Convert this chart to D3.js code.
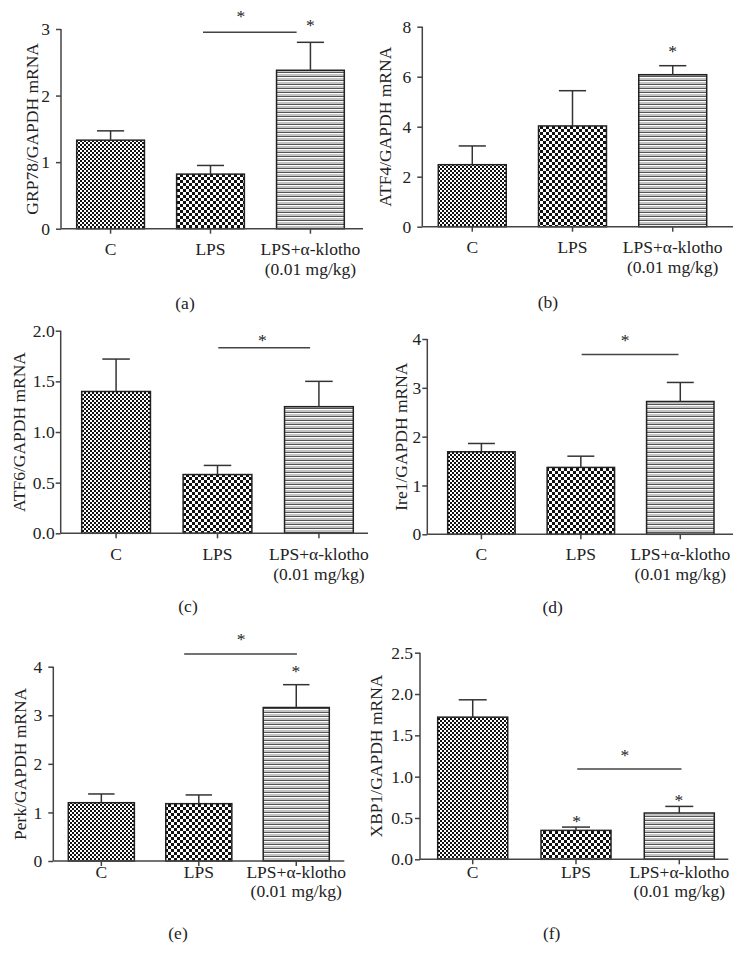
<!DOCTYPE html>
<html>
<head>
<meta charset="utf-8">
<script src="https://cdn.jsdelivr.net/npm/d3@7/dist/d3.min.js"></script>
<style>
  html, body { margin: 0; padding: 0; background: #fff; }
  svg { display: block; }
  text { font-family: "Liberation Serif", "DejaVu Serif", serif; fill: #222; }
</style>
</head>
<body>
<svg id="chart" width="740" height="964"></svg>
<script>
// ---------------- DATA ----------------
const categories = ["C", "LPS", "LPS+\u03b1-klotho"];
const categorySubLabels = ["", "", "(0.01 mg/kg)"];

const grp78Values = [1.33, 0.82, 2.38];
const grp78Errors = [0.14, 0.13, 0.42];
const grp78Ticks = [0, 1, 2, 3];

const atf4Values = [2.48, 4.03, 6.08];
const atf4Errors = [0.75, 1.41, 0.36];
const atf4Ticks = [0, 2, 4, 6, 8];

const atf6Values = [1.40, 0.58, 1.25];
const atf6Errors = [0.32, 0.09, 0.25];
const atf6Ticks = [0.0, 0.5, 1.0, 1.5, 2.0];

const ire1Values = [1.69, 1.37, 2.72];
const ire1Errors = [0.17, 0.23, 0.39];
const ire1Ticks = [0, 1, 2, 3, 4];

const perkValues = [1.20, 1.18, 3.16];
const perkErrors = [0.18, 0.18, 0.47];
const perkTicks = [0, 1, 2, 3, 4];

const xbp1Values = [1.72, 0.35, 0.56];
const xbp1Errors = [0.21, 0.04, 0.08];
const xbp1Ticks = [0.0, 0.5, 1.0, 1.5, 2.0, 2.5];

// significance bars: [from position, to position, value]; positions in category units
// stars: [position, value]
const panels = [
  { id: "a", title: "GRP78/GAPDH mRNA", values: grp78Values, errors: grp78Errors, ticks: grp78Ticks, fmt: "d",
    sig: [[0.925, 1.862, 2.95]], stars: [[1.305, 3.24], [2.0, 3.10]] },
  { id: "b", title: "ATF4/GAPDH mRNA", values: atf4Values, errors: atf4Errors, ticks: atf4Ticks, fmt: "d",
    sig: [], stars: [[2.0, 7.14]] },
  { id: "c", title: "ATF6/GAPDH mRNA", values: atf6Values, errors: atf6Errors, ticks: atf6Ticks, fmt: ".1f",
    sig: [[1.008, 1.913, 1.832]], stars: [[1.442, 1.941]] },
  { id: "d", title: "Ire1/GAPDH mRNA", values: ire1Values, errors: ire1Errors, ticks: ire1Ticks, fmt: "d",
    sig: [[1.008, 1.982, 3.68]], stars: [[1.445, 4.05]] },
  { id: "e", title: "Perk/GAPDH mRNA", values: perkValues, errors: perkErrors, ticks: perkTicks, fmt: "d",
    sig: [[0.850, 2.007, 4.26]], stars: [[1.434, 4.63], [1.996, 3.97]] },
  { id: "f", title: "XBP1/GAPDH mRNA", values: xbp1Values, errors: xbp1Errors, ticks: xbp1Ticks, fmt: ".1f",
    sig: [[1.012, 2.021, 1.092]], stars: [[1.473, 1.301], [1.006, 0.503], [1.995, 0.757]] }
];

// ---------------- LAYOUT ----------------
const FS = 17.5;
const LINE_GAP = 19.6;
const layouts = {
  a: { axisX: 61,    y0: 228.7, yTop: 29,    xEnd: 363,   barL: 76.7,  barR: 344.3, labelX: 32,  pad: 6, catDy: 20.5, letter: [185, 303] },
  b: { axisX: 422.3, y0: 226.7, yTop: 26.7,  xEnd: 733,   barL: 438.3, barR: 706.7, labelX: 385, pad: 6, catDy: 20.5, letter: [548, 301.7] },
  c: { axisX: 60.7,  y0: 533.3, yTop: 330.7, xEnd: 368,   barL: 81.7,  barR: 353.3, labelX: 19,  pad: 1, catDy: 21,   letter: [188, 606] },
  d: { axisX: 427.3, y0: 534.3, yTop: 339,   xEnd: 733,   barL: 447.7, barR: 714,   labelX: 401, pad: 1, catDy: 20,   letter: [552.7, 606.7] },
  e: { axisX: 53.3,  y0: 861,   yTop: 666.7, xEnd: 344.3, barL: 68.3,  barR: 329.3, labelX: 20,  pad: 6, catDy: 10.7, letter: [178, 933] },
  f: { axisX: 420,   y0: 859.3, yTop: 652.7, xEnd: 728.3, barL: 437.7, barR: 714.3, labelX: 376, pad: 2, catDy: 12.3, letter: [551.7, 933] }
};
const barWidthFrac = 0.678;

const svg = d3.select("#chart");
const defs = svg.append("defs");

// Patterns
const p1 = defs.append("pattern").attr("id", "checkFine").attr("patternUnits", "userSpaceOnUse")
  .attr("width", 4).attr("height", 4);
p1.append("rect").attr("width", 4).attr("height", 4).attr("fill", "#fff");
p1.append("rect").attr("x", 0).attr("y", 0).attr("width", 2).attr("height", 2).attr("fill", "#111");
p1.append("rect").attr("x", 2).attr("y", 2).attr("width", 2).attr("height", 2).attr("fill", "#111");

const p2 = defs.append("pattern").attr("id", "checkCoarse").attr("patternUnits", "userSpaceOnUse")
  .attr("width", 6).attr("height", 6);
p2.append("rect").attr("width", 6).attr("height", 6).attr("fill", "#fff");
p2.append("rect").attr("x", 0).attr("y", 0).attr("width", 3).attr("height", 3).attr("fill", "#111");
p2.append("rect").attr("x", 3).attr("y", 3).attr("width", 3).attr("height", 3).attr("fill", "#111");

const p3 = defs.append("pattern").attr("id", "stripes").attr("patternUnits", "userSpaceOnUse")
  .attr("width", 4).attr("height", 4);
p3.append("rect").attr("width", 4).attr("height", 4).attr("fill", "#c4c4c4");
p3.append("rect").attr("y", 0).attr("width", 4).attr("height", 1).attr("fill", "#555");
p3.append("rect").attr("y", 1).attr("width", 4).attr("height", 1).attr("fill", "#fff");

const fills = ["url(#checkFine)", "url(#checkCoarse)", "url(#stripes)"];
const axisColor = "#444";

panels.forEach(p => {
  const L = layouts[p.id];
  const g = svg.append("g");
  const yMax = p.ticks[p.ticks.length - 1];
  const y = d3.scaleLinear().domain([0, yMax]).range([L.y0, L.yTop]);
  const x = d3.scaleBand().domain(categories).range([L.barL, L.barR])
    .paddingInner(1 - barWidthFrac).paddingOuter(0);
  const step = x.step();
  const pos = i => x(categories[0]) + x.bandwidth() / 2 + i * step;

  // bars
  g.selectAll("rect.bar").data(p.values).enter().append("rect")
    .attr("x", (d, i) => x(categories[i]))
    .attr("y", d => y(d))
    .attr("width", x.bandwidth())
    .attr("height", d => L.y0 - y(d))
    .attr("fill", (d, i) => fills[i])
    .attr("stroke", "#222").attr("stroke-width", 1.5);

  // error bars
  const capW = x.bandwidth() * 0.4;
  p.values.forEach((v, i) => {
    const cx = x(categories[i]) + x.bandwidth() / 2;
    g.append("line").attr("x1", cx).attr("x2", cx).attr("y1", y(v)).attr("y2", y(v + p.errors[i]))
      .attr("stroke", "#333").attr("stroke-width", 1.5);
    g.append("line").attr("x1", cx - capW / 2).attr("x2", cx + capW / 2)
      .attr("y1", y(v + p.errors[i])).attr("y2", y(v + p.errors[i]))
      .attr("stroke", "#333").attr("stroke-width", 1.5);
  });

  // y axis
  const yAxis = d3.axisLeft(y).tickValues(p.ticks).tickSize(5).tickPadding(L.pad)
    .tickFormat(d3.format(p.fmt));
  const ya = g.append("g").attr("transform", `translate(${L.axisX},0)`).call(yAxis);
  ya.select(".domain").attr("stroke", axisColor).attr("stroke-width", 1.5).attr("d", `M0,${L.yTop}V${L.y0}`);
  ya.selectAll(".tick line").attr("stroke", axisColor).attr("stroke-width", 1.5);
  ya.selectAll(".tick text").attr("font-size", FS).attr("font-family", "Liberation Serif").attr("fill", "#222");

  // x axis line
  g.append("line").attr("x1", L.axisX).attr("x2", L.xEnd).attr("y1", L.y0).attr("y2", L.y0)
    .attr("stroke", axisColor).attr("stroke-width", 1.5);
  categories.forEach((c, i) => {
    const cx = x(c) + x.bandwidth() / 2;
    g.append("line").attr("x1", cx).attr("x2", cx).attr("y1", L.y0).attr("y2", L.y0 + 5)
      .attr("stroke", axisColor).attr("stroke-width", 1.5);
    g.append("text").attr("text-anchor", "middle").attr("font-size", FS)
      .attr("x", cx).attr("y", L.y0 + L.catDy).attr("dy", "0.35em").text(c);
    if (categorySubLabels[i]) {
      g.append("text").attr("text-anchor", "middle").attr("font-size", FS)
        .attr("x", cx).attr("y", L.y0 + L.catDy + LINE_GAP).attr("dy", "0.35em")
        .text(categorySubLabels[i]);
    }
  });

  // y label
  g.append("text")
    .attr("transform", `translate(${L.labelX},${(L.y0 + L.yTop) / 2}) rotate(-90)`)
    .attr("dy", "0.35em").attr("text-anchor", "middle").attr("font-size", FS)
    .text(p.title);

  // significance lines
  p.sig.forEach(s => {
    g.append("line").attr("x1", pos(s[0])).attr("x2", pos(s[1])).attr("y1", y(s[2])).attr("y2", y(s[2]))
      .attr("stroke", "#444").attr("stroke-width", 1.5);
  });
  p.stars.forEach(s => {
    g.append("text").attr("x", pos(s[0])).attr("y", y(s[1]) + 9)
      .attr("text-anchor", "middle").attr("font-size", FS).attr("fill", "#555").text("*");
  });

  // panel letter
  g.append("text").attr("x", L.letter[0]).attr("y", L.letter[1]).attr("dy", "0.35em")
    .attr("text-anchor", "middle").attr("font-size", FS).text(`(${p.id})`);
});
</script>
</body>
</html>
